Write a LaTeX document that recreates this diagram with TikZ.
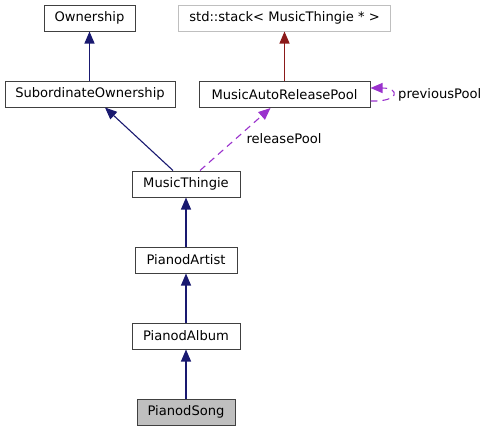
\documentclass[tikz,border=0pt]{standalone}
\usepackage{fontspec}
\setmainfont{DejaVu Sans}
\usetikzlibrary{arrows.meta}
\definecolor{edgeblue}{HTML}{191970}
\definecolor{edgered}{HTML}{8B1A1A}
\definecolor{edgepurple}{HTML}{9A32CD}
\definecolor{boxgrey}{HTML}{BFBFBF}
\definecolor{boxborder}{HTML}{404040}
\tikzset{
  cls/.style={draw=boxborder, line width=1pt, fill=white, inner sep=0pt, font=\fontsize{13.1}{15}\selectfont, text=black},
  extcls/.style={cls, draw=boxgrey},
  cur/.style={cls, fill=boxgrey},
  inh/.style={draw=edgeblue, line width=1.1pt, -{Triangle[length=12pt,width=10pt]}},
  tmpl/.style={draw=edgered, line width=1.1pt, -{Triangle[length=12pt,width=10pt]}},
  usage/.style={draw=edgepurple, line width=1.1pt, dash pattern=on 7pt off 5pt, -{Triangle[length=12pt,width=10pt]}},
  lbl/.style={font=\fontsize{13.1}{15}\selectfont, text=black, inner sep=0pt}
}
\begin{document}
\begin{tikzpicture}[x=1pt,y=-1pt]
\useasboundingbox (0,0) rectangle (489,431);
\node[cls, minimum width=91pt, minimum height=26pt] (own) at (89.5,18) {Ownership};
\node[extcls, minimum width=212pt, minimum height=26pt] (stk) at (284.5,18) {std::stack< MusicThingie * >};
\node[cls, minimum width=170pt, minimum height=26pt] (sub) at (90,94) {SubordinateOwnership};
\node[cls, minimum width=171pt, minimum height=26pt] (marp) at (284.5,94.5) {MusicAutoReleasePool};
\node[cls, minimum width=108pt, minimum height=26pt] (mt) at (186,184) {MusicThingie};
\node[cls, minimum width=102pt, minimum height=26pt] (art) at (186,260) {PianodArtist};
\node[cls, minimum width=108pt, minimum height=26pt] (alb) at (186,336) {PianodAlbum};
\node[cur, minimum width=98pt, minimum height=26pt] (song) at (186,412) {PianodSong};

\draw[inh] (sub.north -| own.south) -- (own.south);
\draw[inh] ([xshift=-13pt]mt.north) -- ([xshift=15pt]sub.south);
\draw[tmpl] (marp.north -| stk.south) -- (stk.south);
\draw[usage] ([xshift=14pt]mt.north) -- ([xshift=-14pt]marp.south);
\node[lbl] (rp) at (284,138.5) {releasePool};
\coordinate (lpA) at ([yshift=6.5pt]marp.east);
\coordinate (lpB) at ([yshift=-6.5pt]marp.east);
\draw[usage] (lpB) .. controls (400,102) and (400,88) .. (lpA);
\node[lbl, anchor=west] (pp) at (398,94.5) {previousPool};
\draw[inh] (art.north) -- (mt.south);
\draw[inh] (alb.north) -- (art.south);
\draw[inh] (song.north) -- (alb.south);
\end{tikzpicture}
\end{document}
